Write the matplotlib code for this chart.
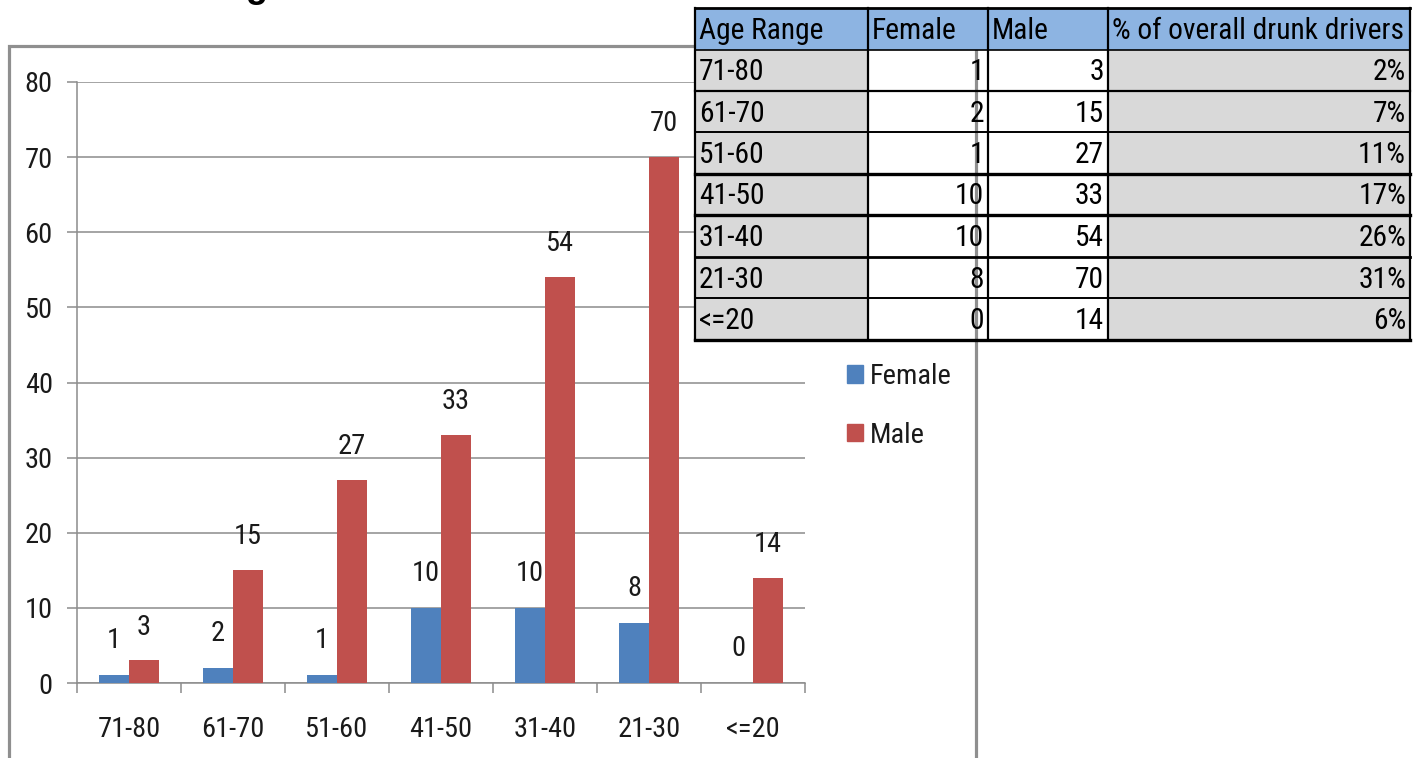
import matplotlib
matplotlib.use("Agg")
import matplotlib.pyplot as plt
import matplotlib.font_manager as font_manager
from matplotlib.patches import Rectangle, Patch
import numpy as np

age_ranges = ["71-80", "61-70", "51-60", "41-50", "31-40", "21-30", "<=20"]
female = [1, 2, 1, 10, 10, 8, 0]
male = [3, 15, 27, 33, 54, 70, 14]
pct_overall = ["2%", "7%", "11%", "17%", "26%", "31%", "6%"]
table_header = ["Age Range", "Female", "Male", "% of overall drunk drivers"]
y_ticks = list(range(0, 90, 10))

# The original uses a tall, narrow font - use a condensed face if one is installed
names = {f.name for f in font_manager.fontManager.ttflist}
family = ["Liberation Sans", "DejaVu Sans"]
stretch = "normal"
for cand in ["Liberation Sans Narrow", "Roboto Condensed", "Open Sans Condensed",
             "Noto Sans Condensed", "DejaVu Sans Condensed"]:
    if cand in names:
        family = [cand, "DejaVu Sans"]
        break
else:
    for f in font_manager.fontManager.ttflist:
        if f.name in ("Roboto", "Noto Sans", "Open Sans") and str(f.stretch) in ("condensed", "semi-condensed"):
            family = [f.name, "DejaVu Sans"]
            stretch = str(f.stretch)
            break
plt.rcParams["font.family"] = family
plt.rcParams["font.stretch"] = stretch

blue = "#4F81BD"
red = "#C0504D"
grid_gray = "#8C8C8C"
text_col = "#1A1A1A"

W, H = 1424, 758
fig = plt.figure(figsize=(W / 100, H / 100), dpi=100)


def fit_size(s, target_px):
    # font size that makes string s about target_px wide
    t = fig.text(0, 0, s, fontsize=20)
    w = t.get_window_extent(fig.canvas.get_renderer()).width
    t.remove()
    return 20 * target_px / w


fs = fit_size("71-80", 63)
fs_tab = fit_size("% of overall drunk drivers", 292)

# main chart axes (pixel box: x 77..805, y 82..683)
ax = fig.add_axes([77 / W, (H - 683) / H, (805 - 77) / W, (683 - 82) / H])
x = np.arange(len(age_ranges))
bw = 0.29
ax.bar(x - bw / 2, female, bw, color=blue, zorder=3, label="Female")
ax.bar(x + bw / 2, male, bw, color=red, zorder=3, label="Male")

for xi, v in zip(x - bw / 2, female):
    ax.annotate(str(v), (xi, v), xytext=(0, 25), textcoords="offset points",
                ha="center", va="center", fontsize=fs, color=text_col)
for xi, v in zip(x + bw / 2, male):
    ax.annotate(str(v), (xi, v), xytext=(0, 24), textcoords="offset points",
                ha="center", va="center", fontsize=fs, color=text_col)

ax.set_xlim(-0.5, len(age_ranges) - 0.5)
ax.set_ylim(0, 80)
ax.set_yticks(y_ticks)
ax.set_yticklabels([str(t) for t in y_ticks], fontsize=fs, color=text_col)
ax.set_xticks(x)
ax.set_xticklabels(age_ranges, fontsize=fs, color=text_col)
ax.set_xticks(np.arange(-0.5, len(age_ranges)), minor=True)
ax.tick_params(axis="x", which="major", length=0, pad=24)
ax.tick_params(axis="x", which="minor", length=7.5, width=1.1, color=grid_gray, direction="out")
ax.tick_params(axis="y", length=7.5, width=1.1, color=grid_gray, pad=10)
ax.yaxis.grid(True, color=grid_gray, linewidth=1.1, zorder=1)
ax.set_axisbelow(True)
for s in ["top", "right"]:
    ax.spines[s].set_visible(False)
for s in ["left", "bottom"]:
    ax.spines[s].set_color(grid_gray)
    ax.spines[s].set_linewidth(1.1)

leg = ax.legend(handles=[Patch(color=blue, label="Female"), Patch(color=red, label="Male")],
                loc="upper left", bbox_to_anchor=(847 / W, 1 - 363 / H),
                bbox_transform=fig.transFigure, frameon=False, fontsize=fs,
                handlelength=0.55, handleheight=0.55, handletextpad=0.25,
                labelspacing=1.12, borderpad=0, borderaxespad=0)
for t in leg.get_texts():
    t.set_color(text_col)

# overlay in pixel coordinates for frame, title fragment and the table
ov = fig.add_axes([0, 0, 1, 1], facecolor="none")
ov.set_xlim(0, W)
ov.set_ylim(H, 0)
ov.axis("off")

# chart outer frame
ov.plot([9, 9, 976, 976], [H + 5, 46, 46, H + 5], color="#8F8F8F", lw=2.3, zorder=0,
        solid_joinstyle="miter")

# title (mostly cut off at the top of the picture)
ov.text(268, -3, "Drunk Driving", ha="right", va="baseline", fontsize=26,
        fontweight="bold", color="black", family=["Liberation Sans", "DejaVu Sans"])

# table
col_x = [695, 868, 988, 1108, 1410]
row_y = [8, 50, 91, 132, 174, 215, 257, 298, 340]
ov.add_patch(Rectangle((col_x[0], row_y[0]), col_x[-1] - col_x[0], row_y[1] - row_y[0],
                       facecolor="#8DB4E2", edgecolor="none", zorder=1))
for i in range(len(age_ranges)):
    y0, y1 = row_y[i + 1], row_y[i + 2]
    for c in (0, 3):
        ov.add_patch(Rectangle((col_x[c], y0), col_x[c + 1] - col_x[c], y1 - y0,
                               facecolor="#D9D9D9", edgecolor="none", zorder=1))

for c, h in enumerate(table_header):
    ov.text(col_x[c] + 4, (row_y[0] + row_y[1]) / 2 + 2, h, ha="left", va="center",
            fontsize=fs_tab, color="black", zorder=3)
rows = list(zip(age_ranges, female, male, pct_overall))
for i, r in enumerate(rows):
    yc = (row_y[i + 1] + row_y[i + 2]) / 2 + 2
    ov.text(col_x[0] + 4, yc, r[0], ha="left", va="center", fontsize=fs_tab, color="black", zorder=3)
    for c in (1, 2, 3):
        ov.text(col_x[c + 1] - 4, yc, str(r[c]), ha="right", va="center", fontsize=fs_tab,
                color="black", zorder=3)

# table borders
row_lw = [2.0, 1.2, 1.6, 1.4, 2.4, 2.4, 2.0, 1.4, 2.4]
for y, lw in zip(row_y, row_lw):
    ov.plot([col_x[0], col_x[-1]], [y, y], color="black", lw=lw, zorder=4)
for cx in col_x:
    ov.plot([cx, cx], [row_y[0], row_y[-1]], color="black", lw=1.6, zorder=4)

fig.savefig("out.png", dpi=100)
